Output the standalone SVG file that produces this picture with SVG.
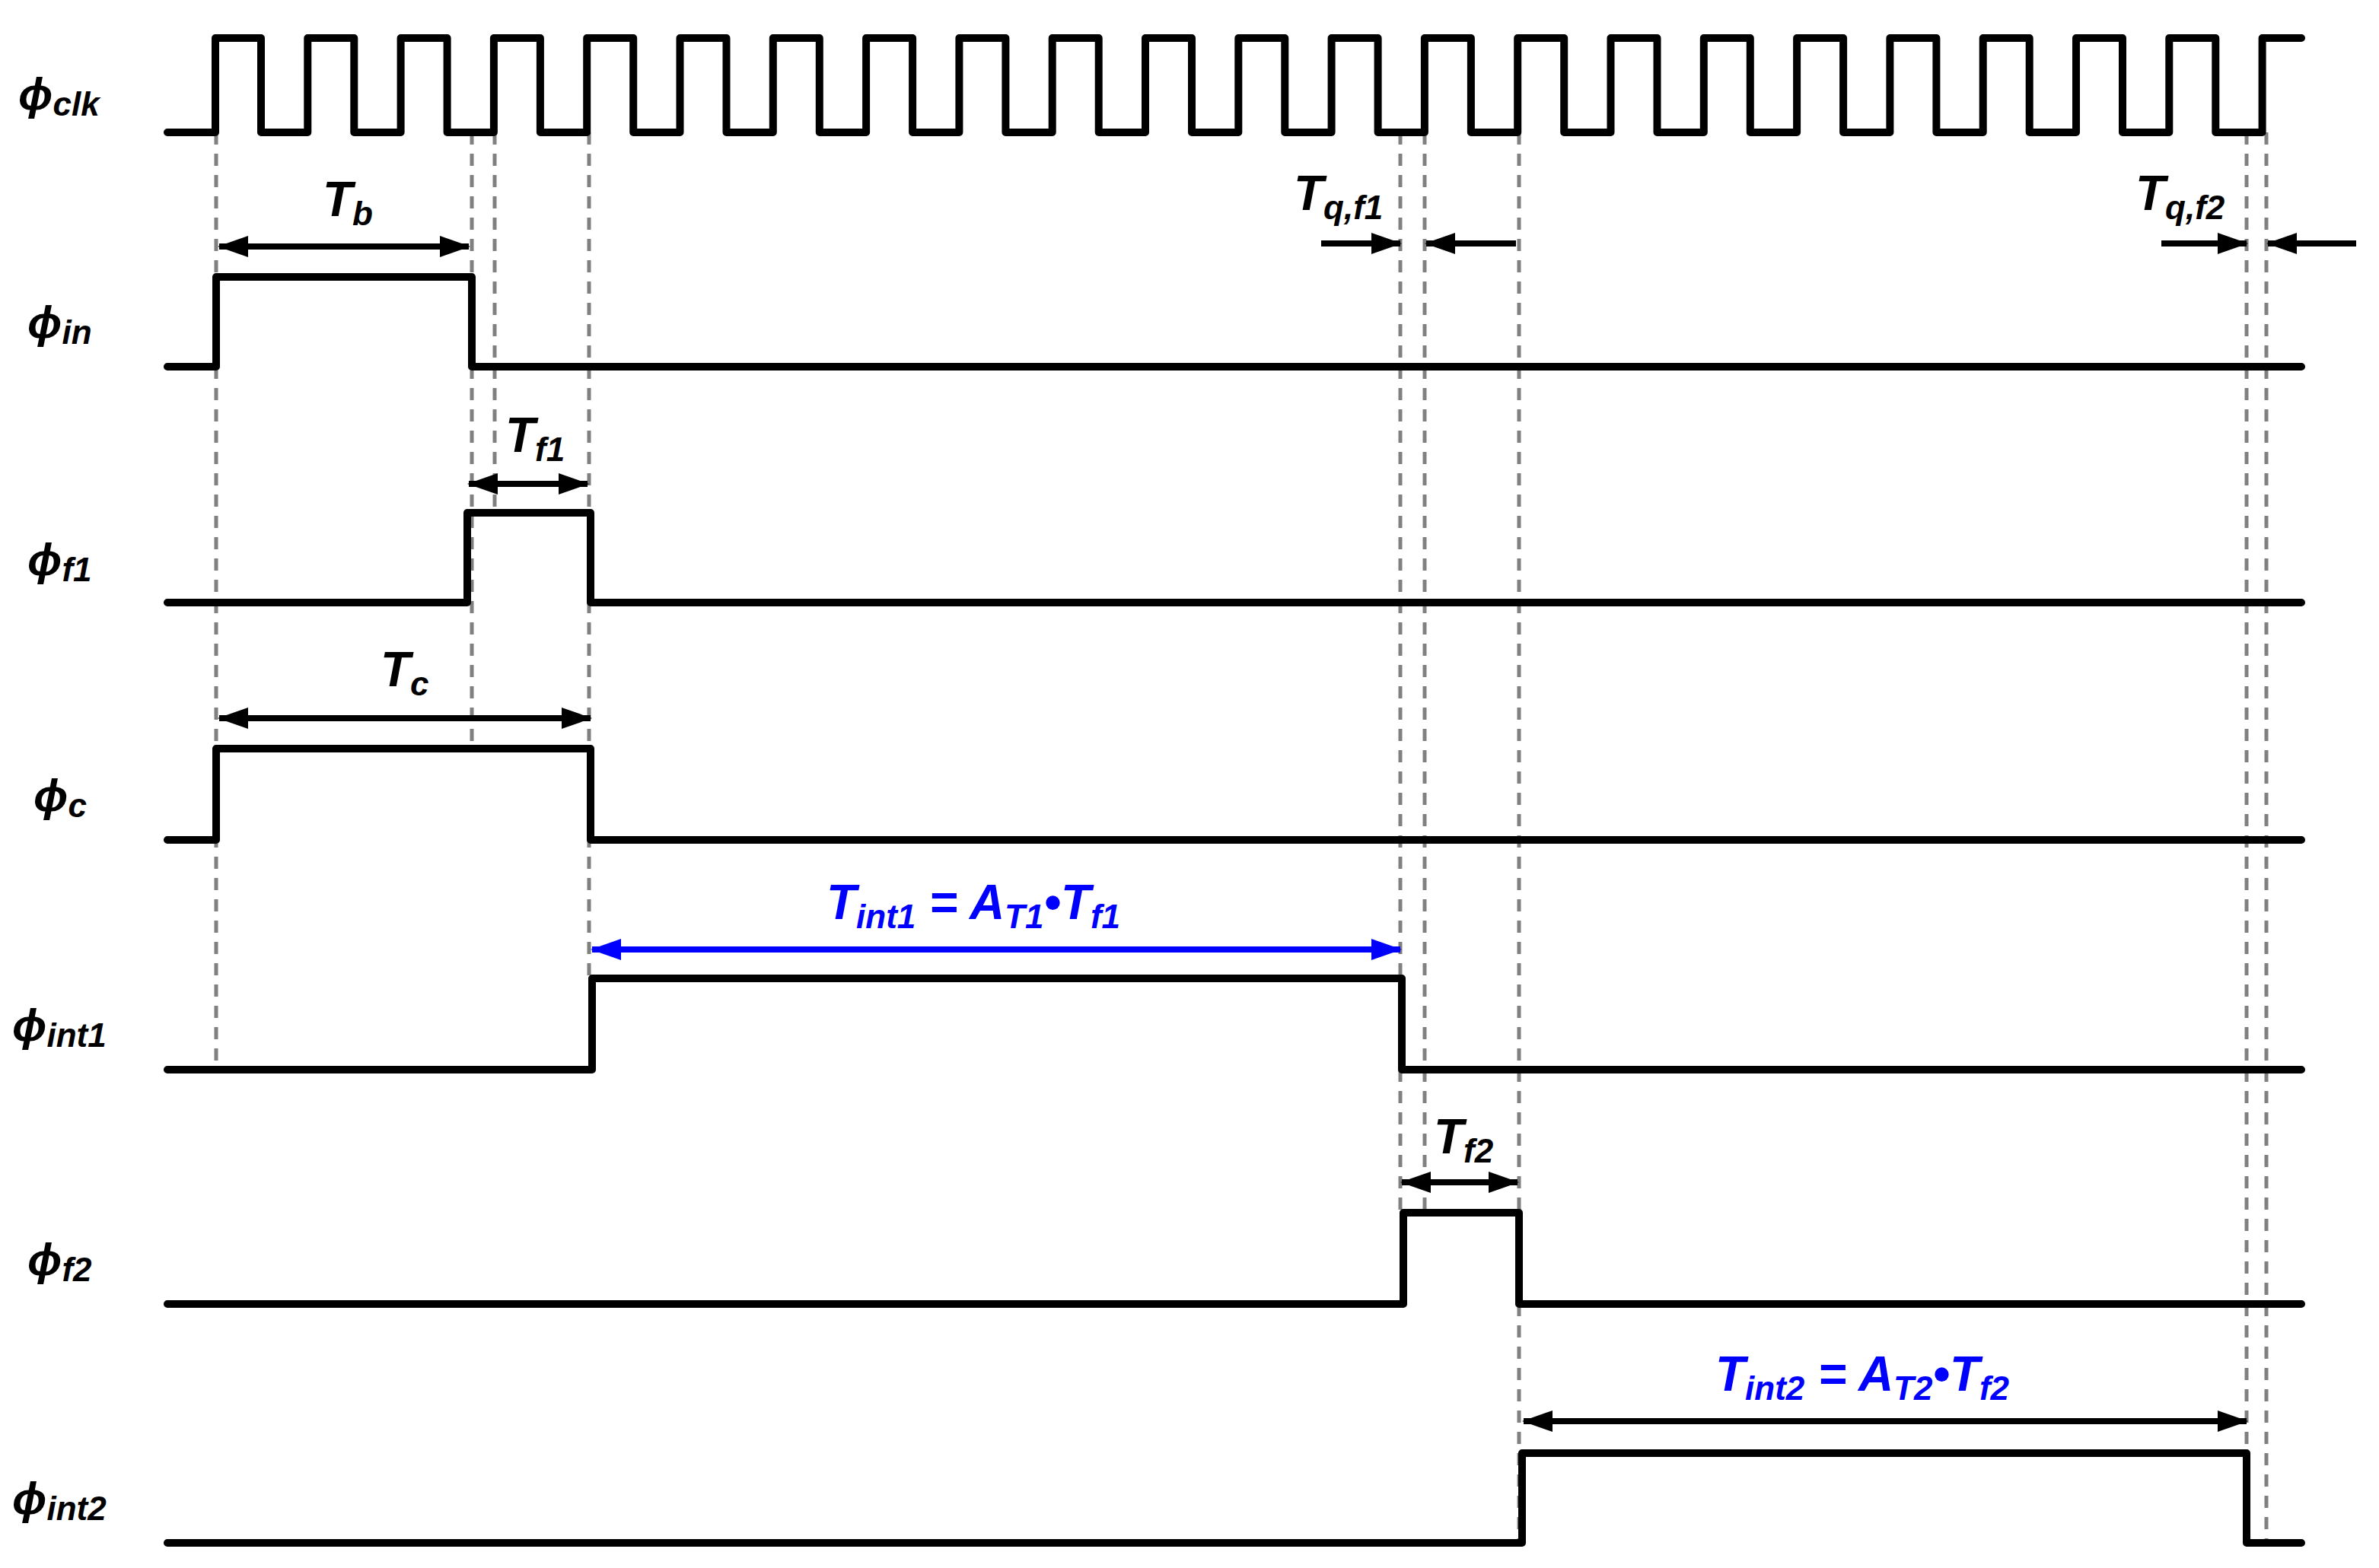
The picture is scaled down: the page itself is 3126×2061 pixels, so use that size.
<svg xmlns="http://www.w3.org/2000/svg" width="3126" height="2061" viewBox="0 0 3126 2061">
<style>
.sig{fill:none;stroke:#000;stroke-width:5;stroke-linejoin:round;stroke-linecap:round}
.dash{stroke:#808080;stroke-width:2.5;stroke-dasharray:8 6;fill:none}
.dim{stroke:#000;stroke-width:4;fill:none}
.dimb{stroke:#0000ff;stroke-width:4;fill:none}
text{font-family:"Liberation Sans",Arial,sans-serif;font-weight:bold;font-style:italic}
.lab{font-size:30px}
.t{font-size:32px}
.s{font-size:22px}
.blue{fill:#0000ff}
</style>
<defs>
<marker id="ah" markerUnits="userSpaceOnUse" markerWidth="20" markerHeight="14" refX="19" refY="7" orient="auto-start-reverse"><path d="M0,0 L20,7 L0,14 Z" fill="#000"/></marker>
<marker id="ahb" markerUnits="userSpaceOnUse" markerWidth="20" markerHeight="14" refX="19" refY="7" orient="auto-start-reverse"><path d="M0,0 L20,7 L0,14 Z" fill="#0000ff"/></marker>
</defs>
<rect width="3126" height="2061" fill="#fff"/>
<g transform="scale(2)">
<g id="guides">
<path class="dash" d="M142,87V703 M310,87V492 M325,87V337 M387,87V643 M920,87V797 M936,87V797 M998,87V1014 M1476,87V1014 M1489,87V1014"/>
</g>
<g id="clk"><text class="lab" x="12" y="72">ϕ<tspan class="s" dy="4">clk</tspan></text>
<path class="sig" d="M110,87 H141.5V25H171.5V87 H202.15V25H232.65V87 H263.3V25H293.8V87 H324.45V25H354.95V87 H385.6V25H416.1V87 H446.75V25H477.25V87 H507.9V25H538.4V87 H569.05V25H599.55V87 H630.2V25H660.7V87 H691.35V25H721.85V87 H752.5V25H783V87 H813.65V25H844.15V87 H874.8V25H905.3V87 H935.95V25H966.45V87 H997.1V25H1027.6V87 H1058.25V25H1088.75V87 H1119.4V25H1149.9V87 H1180.55V25H1211.05V87 H1241.7V25H1272.2V87 H1302.85V25H1333.35V87 H1364V25H1394.5V87 H1425.15V25H1455.65V87 H1486.3V25H1512"/></g>
<g id="in"><text class="lab" x="18" y="222">ϕ<tspan class="s" dy="4">in</tspan></text>
<path class="sig" d="M110,241H142V182H310V241H1512"/></g>
<g id="f1"><text class="lab" x="18" y="378">ϕ<tspan class="s" dy="4">f1</tspan></text>
<path class="sig" d="M110,396H307V337H388V396H1512"/></g>
<g id="c"><text class="lab" x="22" y="533">ϕ<tspan class="s" dy="4">c</tspan></text>
<path class="sig" d="M110,552H142V492H388V552H1512"/></g>
<g id="int1"><text class="lab" x="8" y="684">ϕ<tspan class="s" dy="4">int1</tspan></text>
<path class="sig" d="M110,703H389V643H921V703H1512"/></g>
<g id="f2"><text class="lab" x="18" y="838">ϕ<tspan class="s" dy="4">f2</tspan></text>
<path class="sig" d="M110,857H922V797H998V857H1512"/></g>
<g id="int2"><text class="lab" x="8" y="995">ϕ<tspan class="s" dy="4">int2</tspan></text>
<path class="sig" d="M110,1014H1000V955H1476V1014H1512"/></g>
<g id="connectors">
<path class="dim" d="M144,162H308" marker-start="url(#ah)" marker-end="url(#ah)"/>
<path class="dim" d="M308,318H386" marker-start="url(#ah)" marker-end="url(#ah)"/>
<path class="dim" d="M144,472H388" marker-start="url(#ah)" marker-end="url(#ah)"/>
<path class="dimb" d="M389,624H920" marker-start="url(#ahb)" marker-end="url(#ahb)"/>
<path class="dim" d="M921,777H997" marker-start="url(#ah)" marker-end="url(#ah)"/>
<path class="dim" d="M1001,934H1476" marker-start="url(#ah)" marker-end="url(#ah)"/>
<path class="dim" d="M868,160H920" marker-end="url(#ah)"/>
<path class="dim" d="M996,160H937" marker-end="url(#ah)"/>
<path class="dim" d="M1420,160H1476" marker-end="url(#ah)"/>
<path class="dim" d="M1548,160H1490" marker-end="url(#ah)"/>
</g>
<g id="labels">
<text class="t" x="212" y="142">T<tspan class="s" dy="6">b</tspan></text>
<text class="t" x="332" y="297">T<tspan class="s" dy="6">f1</tspan></text>
<text class="t" x="250" y="451">T<tspan class="s" dy="6">c</tspan></text>
<text class="t" x="942" y="758">T<tspan class="s" dy="6">f2</tspan></text>
<text class="t" x="850" y="138">T<tspan class="s" dy="6">q,f1</tspan></text>
<text class="t" x="1403" y="138">T<tspan class="s" dy="6">q,f2</tspan></text>
<text class="t blue" x="543" y="604">T<tspan class="s" dy="6">int1</tspan><tspan dy="-6"> = A</tspan><tspan class="s" dy="6">T1</tspan><tspan dy="-6">•T</tspan><tspan class="s" dy="6">f1</tspan></text>
<text class="t blue" x="1127" y="914">T<tspan class="s" dy="6">int2</tspan><tspan dy="-6"> = A</tspan><tspan class="s" dy="6">T2</tspan><tspan dy="-6">•T</tspan><tspan class="s" dy="6">f2</tspan></text>
</g>
</g>
</svg>
